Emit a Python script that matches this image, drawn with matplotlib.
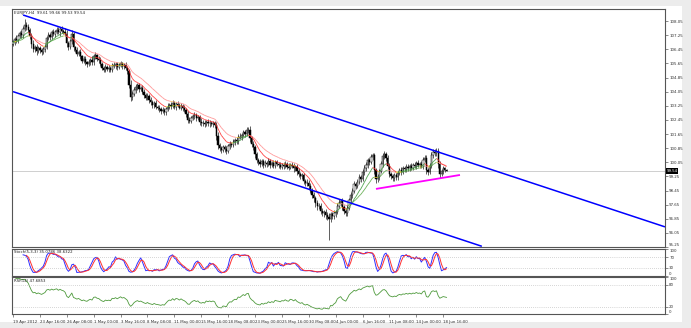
import numpy as np
import pandas as pd
import matplotlib
matplotlib.use("Agg")
import matplotlib.pyplot as plt
from matplotlib.collections import LineCollection
from matplotlib.patches import Rectangle

# ---- data ----
symbol_text = "EURJPY,H4  99.61 99.66 99.53 99.54"
stoch_text = "Stoch(5,3,3) 35.0786 38.6322"
rsi_text = "RSI(14) 47.6853"

first_open = 106.75
closes = [
    106.85, 107.05, 106.95, 107.20, 107.35, 107.25, 107.60, 107.85, 107.70, 107.55,
    107.20, 106.75, 106.45, 106.55, 106.35, 106.50, 106.40, 106.30, 106.45, 106.60,
    107.10, 107.25, 107.15, 107.40, 107.30, 107.45, 107.55, 107.40, 107.60, 107.50,
    107.45, 107.30, 106.80, 106.60, 106.90, 107.30, 106.55, 106.40, 106.20, 106.30,
    106.05, 105.80, 105.90, 105.70, 105.60, 105.75, 105.85, 105.70, 106.05, 106.10,
    105.90, 105.85, 105.60, 105.40, 105.30, 105.45, 105.35, 105.40, 105.30, 105.55,
    105.50, 105.60, 105.45, 105.55, 105.65, 105.50, 105.55, 105.40, 105.20, 104.45,
    103.75, 103.90, 104.15, 104.30, 104.40, 104.20, 104.25, 104.05, 103.85, 103.70,
    103.80, 103.55, 103.45, 103.30, 103.40, 103.20, 103.15, 103.05, 102.95, 103.00,
    102.90, 103.05, 103.20, 103.30, 103.25, 103.40, 103.20, 103.35, 103.30, 103.15,
    103.25, 103.10, 103.00, 102.80, 102.45, 102.40, 102.55, 102.65, 102.70, 102.55,
    102.60, 102.35, 102.25, 102.30, 102.20, 102.35, 102.25, 102.30, 102.20, 102.25,
    102.15, 101.55, 101.00, 100.85, 100.75, 100.90, 100.80, 100.70, 100.95, 101.10,
    101.05, 101.20, 101.30, 101.25, 101.50, 101.45, 101.60, 101.75, 101.65, 101.85,
    101.90, 101.40, 101.10, 100.90, 100.50, 100.20, 100.05, 99.95, 100.10, 99.90,
    100.00, 99.95, 100.10, 99.90, 100.00, 99.85, 100.05, 99.95, 99.90, 99.80,
    99.90, 99.85, 99.95, 99.80, 99.75, 99.90, 99.85, 99.70, 99.80, 99.55,
    99.40, 99.25, 99.30, 99.00, 98.85, 98.90, 98.70, 98.45, 98.20, 98.00,
    97.75, 97.55, 97.60, 97.30, 97.15, 97.25, 97.05, 96.95, 96.85, 97.10,
    97.00, 97.15, 97.25, 97.60, 97.75, 97.85, 97.50, 97.30, 97.15, 97.45,
    97.90, 98.20, 98.45, 98.80, 98.70, 98.95, 99.20, 99.10, 99.50, 99.70,
    99.90, 100.15, 100.05, 100.35, 100.45, 99.60, 99.10, 99.20, 99.55, 99.95,
    100.40, 100.50, 100.30, 99.85, 99.40, 99.25, 99.15, 99.30, 99.20, 99.45,
    99.60, 99.50, 99.70, 99.65, 99.80, 99.70, 99.85, 99.75, 99.90, 99.85,
    100.00, 99.90, 99.95, 99.85, 100.20, 100.30, 99.60, 99.50, 99.85, 100.45,
    100.65, 100.55, 100.70, 99.95, 99.40, 99.55, 99.70, 99.61, 99.54,
]
# wick lengths above / below the body, in hundredths of a yen
upper_wick = [
    15, 12, 18, 10, 14, 20, 15, 30, 12, 18,
    10, 15, 22, 12, 18, 11, 15, 14, 10, 16,
    12, 18, 11, 15, 20, 10, 14, 18, 12, 15,
    11, 18, 22, 12, 15, 22, 14, 11, 18, 12,
    15, 10, 18, 14, 11, 16, 12, 20, 15, 18,
    10, 14, 15, 12, 11, 18, 10, 15, 12, 14,
    18, 11, 15, 12, 16, 10, 14, 18, 12, 15,
    28, 18, 14, 20, 12, 15, 11, 18, 14, 10,
    15, 12, 18, 11, 14, 16, 10, 15, 12, 18,
    11, 14, 20, 12, 15, 18, 10, 14, 16, 12,
    15, 11, 18, 12, 14, 16, 10, 15, 20, 12,
    14, 11, 18, 12, 15, 10, 16, 14, 11, 15,
    12, 18, 22, 14, 11, 15, 12, 18, 14, 16,
    11, 15, 12, 18, 14, 20, 12, 15, 11, 18,
    15, 22, 14, 18, 12, 15, 11, 16, 14, 12,
    15, 11, 18, 12, 14, 16, 10, 15, 12, 18,
    11, 14, 15, 12, 18, 10, 14, 16, 12, 15,
    18, 12, 15, 14, 11, 18, 12, 15, 14, 16,
    12, 18, 15, 14, 16, 11, 15, 18, 22, 15,
    14, 18, 12, 15, 20, 14, 16, 12, 15, 18,
    14, 16, 12, 18, 15, 14, 20, 12, 15, 18,
    14, 16, 15, 18, 15, 15, 12, 18, 14, 16,
    18, 20, 15, 14, 18, 12, 15, 14, 16, 12,
    15, 18, 12, 16, 14, 15, 11, 18, 12, 15,
    14, 16, 12, 18, 15, 14, 18, 12, 15, 18,
    15, 14, 15, 18, 15, 12, 14, 8, 5,
]
lower_wick = [
    14, 18, 12, 15, 11, 16, 14, 12, 18, 15,
    18, 22, 15, 14, 20, 12, 16, 15, 11, 14,
    15, 11, 18, 14, 12, 16, 15, 11, 18, 14,
    15, 12, 20, 18, 14, 15, 18, 12, 16, 14,
    18, 14, 12, 16, 15, 11, 18, 14, 12, 15,
    14, 18, 12, 15, 16, 11, 14, 18, 15, 12,
    11, 15, 18, 14, 12, 16, 15, 11, 14, 20,
    25, 15, 12, 18, 14, 16, 11, 15, 18, 14,
    12, 16, 14, 15, 18, 11, 15, 14, 16, 12,
    15, 18, 11, 14, 16, 12, 15, 18, 14, 11,
    14, 16, 12, 18, 20, 15, 14, 11, 16, 15,
    12, 18, 14, 15, 16, 11, 14, 18, 12, 15,
    14, 22, 20, 15, 18, 12, 16, 20, 14, 15,
    15, 12, 18, 14, 16, 11, 15, 14, 18, 12,
    14, 18, 20, 15, 22, 18, 14, 16, 12, 15,
    12, 16, 14, 18, 11, 15, 14, 12, 16, 15,
    14, 18, 12, 15, 16, 11, 15, 18, 14, 20,
    18, 15, 14, 20, 16, 12, 18, 15, 20, 18,
    22, 18, 15, 20, 16, 18, 22, 15, 120, 18,
    15, 14, 18, 12, 15, 16, 18, 20, 15, 14,
    12, 16, 15, 14, 18, 12, 15, 18, 14, 16,
    15, 18, 14, 12, 16, 20, 22, 15, 14, 12,
    15, 14, 18, 20, 18, 15, 16, 14, 18, 15,
    14, 16, 12, 18, 15, 14, 16, 12, 15, 14,
    16, 12, 15, 14, 18, 15, 20, 18, 14, 15,
    16, 14, 15, 20, 22, 15, 14, 12, 1,
]

price_ticks = [108.05, 107.25, 106.45, 105.65, 104.85, 104.05, 103.25, 102.45,
               101.65, 100.85, 100.05, 99.25, 98.45, 97.65, 96.85, 96.05, 95.25]
stoch_ticks = [100, 70, 30, 0]
rsi_ticks = [100, 80, 20, 0]
date_labels = ["19 Apr 2012", "23 Apr 16:00", "26 Apr 08:00", "1 May 00:00",
               "3 May 16:00", "8 May 08:00", "11 May 00:00", "15 May 16:00",
               "18 May 08:00", "23 May 00:00", "25 May 16:00", "30 May 08:00",
               "4 Jun 00:00", "6 Jun 16:00", "11 Jun 08:00", "14 Jun 00:00",
               "18 Jun 16:00"]
date_bars = [0, 16, 32, 48, 64, 80, 96, 112, 128, 144, 160, 176, 192, 208, 224, 240, 256]
last_price = 99.54

# trend lines: (bar, price) end points
channel_top = [(6, 108.39), (388, 96.39)]
channel_bottom = [(0, 104.05), (279, 95.29)]
support = [(216, 98.54), (266, 99.33)]

# ---- derived series ----
c = np.array(closes)
o = np.r_[first_open, c[:-1]]
h = np.maximum(o, c) + np.array(upper_wick) / 100
l = np.minimum(o, c) - np.array(lower_wick) / 100
x = np.arange(len(c))

ema_fast = pd.Series(c).ewm(span=10, adjust=False).mean().values
ema_slow = pd.Series(c).ewm(span=20, adjust=False).mean().values

lo5 = pd.Series(l).rolling(5).min()
hi5 = pd.Series(h).rolling(5).max()
k = 100 * (pd.Series(c) - lo5).rolling(3).sum() / (hi5 - lo5).rolling(3).sum()
d = k.rolling(3).mean()

delta = pd.Series(c).diff()
gain = delta.clip(lower=0).ewm(alpha=1 / 14, adjust=False).mean()
loss = (-delta.clip(upper=0)).ewm(alpha=1 / 14, adjust=False).mean()
rsi = 100 - 100 / (1 + gain / loss)

# ---- figure ----
W, H = 691, 328
fig = plt.figure(figsize=(W / 100, H / 100), dpi=100, facecolor="#ececec")
fig.patches.append(Rectangle((0, 6 / H), 682 / W, 1 - 12 / H, transform=fig.transFigure,
                             facecolor="white", edgecolor="none", zorder=-10))


def frac(px_left, px_top, px_right, px_bottom):
    return [px_left / W, 1 - px_bottom / H, (px_right - px_left) / W, (px_bottom - px_top) / H]


ax = fig.add_axes(frac(12, 9, 665, 247))
ax_st = fig.add_axes(frac(12, 249, 665, 275.7), sharex=ax)
ax_rsi = fig.add_axes(frac(12, 277.3, 665, 314), sharex=ax)

for a in (ax, ax_st, ax_rsi):
    a.set_facecolor("white")
    for s in a.spines.values():
        s.set_color("#555555")
        s.set_linewidth(0.8)
    a.yaxis.tick_right()
    a.tick_params(axis="y", labelsize=2.9, length=2, width=0.4, pad=1,
                  colors="#333333")
    a.tick_params(axis="x", length=0, labelbottom=False)

# main price panel
ax.axhline(last_price, color="#c8c8c8", lw=0.6, zorder=1)
ax.vlines(x, l, h, color="#333333", lw=0.55, zorder=2)
body = np.maximum(np.abs(c - o), 0.02)
ax.bar(x, body, bottom=np.minimum(o, c), width=0.75,
       color=np.where(c >= o, "white", "black"), edgecolor="black", lw=0.35, zorder=3)


def slope_line(values, up, down, flat, lw, alpha):
    pts = np.column_stack([x, values])
    segs = np.stack([pts[:-1], pts[1:]], axis=1)
    dv = np.diff(values)
    cols = np.where(dv > 0.012, up, np.where(dv < -0.012, down, flat))
    ax.add_collection(LineCollection(segs, colors=cols, linewidths=lw, alpha=alpha, zorder=4))


slope_line(ema_slow, "#5aa845", "#ff8c8c", "#f0d040", 0.6, 0.9)
slope_line(ema_fast, "#3c9a3c", "#ff2a2a", "#ffd21e", 0.6, 0.9)

for pts, col, lw in ((channel_top, "#0000ff", 1.1), (channel_bottom, "#0000ff", 1.1),
                     (support, "#ff00ff", 1.3)):
    ax.plot([p[0] for p in pts], [p[1] for p in pts], color=col, lw=lw, zorder=5,
            solid_capstyle="butt")

ax.set_xlim(-0.6, 388)
ax.set_ylim(95.25, 108.73)
ax.set_yticks(price_ticks)
ax.set_yticklabels([f"{v:.2f}" for v in price_ticks])
ax.get_yticklabels()[-1].set_va("bottom")
ax.text(0.003, 0.993, symbol_text, transform=ax.transAxes, fontsize=2.8,
        va="top", ha="left", color="#222222")
ax.text(1.002, last_price, f"{last_price:.2f}", transform=ax.get_yaxis_transform(),
        fontsize=2.8, color="white", va="center", ha="left", zorder=6,
        bbox=dict(boxstyle="square,pad=0.2", fc="black", ec="black", lw=0))

# stochastic panel
ax_st.plot(x, k, color="#3030ff", lw=0.7)
ax_st.plot(x, d, color="#ff3030", lw=0.7)
for lev in (70, 30):
    ax_st.axhline(lev, color="#b0b0b0", lw=0.5, ls=(0, (1, 2)))
ax_st.set_ylim(0, 100)
ax_st.set_yticks(stoch_ticks)
ax_st.text(0.003, 0.96, stoch_text, transform=ax_st.transAxes, fontsize=2.8,
           va="top", ha="left", color="#222222")

# RSI panel
ax_rsi.plot(x, rsi, color="#4e9a3c", lw=0.6)
for lev in (80, 20):
    ax_rsi.axhline(lev, color="#b0b0b0", lw=0.5, ls=(0, (1, 2)))
ax_rsi.set_ylim(0, 100)
ax_rsi.set_yticks(rsi_ticks)
ax_rsi.text(0.003, 0.96, rsi_text, transform=ax_rsi.transAxes, fontsize=2.8,
            va="top", ha="left", color="#222222")

for a in (ax_st, ax_rsi):
    labels = a.get_yticklabels()
    labels[0].set_va("top")
    labels[-1].set_va("bottom")

ax_rsi.set_xticks(date_bars)
ax_rsi.set_xticklabels(date_labels, ha="left")
ax_rsi.tick_params(axis="x", labelbottom=True, length=2, width=0.4, pad=2,
                   labelsize=2.8, colors="#333333")

fig.savefig("out.png", dpi=100, facecolor=fig.get_facecolor())
